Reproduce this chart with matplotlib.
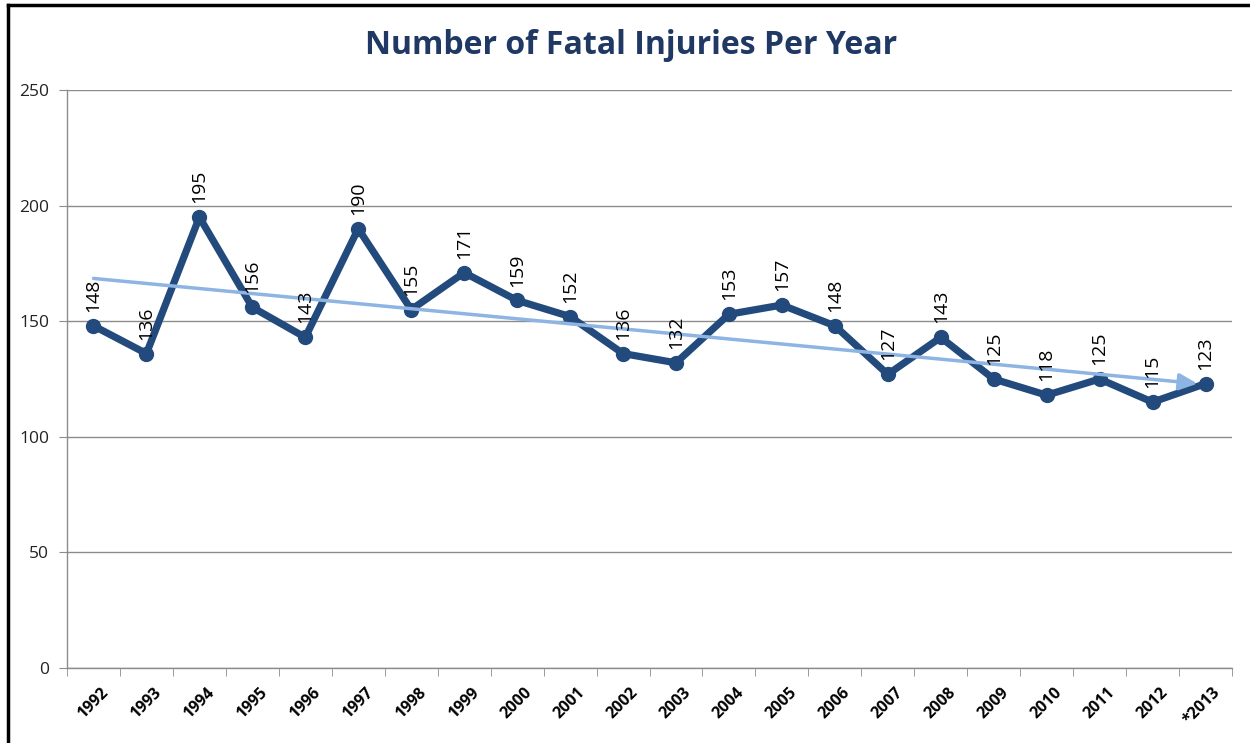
import matplotlib
matplotlib.use("Agg")
import matplotlib.pyplot as plt
from matplotlib.lines import Line2D
import matplotlib.transforms as mtransforms

years = ["1992", "1993", "1994", "1995", "1996", "1997", "1998", "1999", "2000", "2001",
         "2002", "2003", "2004", "2005", "2006", "2007", "2008", "2009", "2010", "2011",
         "2012", "*2013"]
fatalities = [148, 136, 195, 156, 143, 190, 155, 171, 159, 152,
              136, 132, 153, 157, 148, 127, 143, 125, 118, 125, 115, 123]
trend_start = 168.5
trend_end = 123
y_ticks = [0, 50, 100, 150, 200, 250]

plt.rcParams['font.family'] = ['Open Sans', 'DejaVu Sans']

fig = plt.figure(figsize=(12.5, 7.43), dpi=100)
ax = fig.add_axes([67/1250, 1-668/743, (1232-67)/1250, (668-90)/743])

x = list(range(len(years)))
line_color = '#234A7C'
ax.plot(x, fatalities, color=line_color, lw=5.2, marker='o', markersize=10,
        solid_joinstyle='round', zorder=3)

for xi, v in zip(x, fatalities):
    ax.annotate(str(v), (xi, v), xytext=(0, 10), textcoords='offset points',
                rotation=90, ha='center', va='bottom', fontsize=14, color='black', zorder=5)

ax.annotate('', xy=(len(years) - 1 - 0.15, trend_end), xytext=(0, trend_start),
            arrowprops=dict(arrowstyle='-|>,head_length=1.1,head_width=0.5',
                            color='#8DB4E2', lw=2.5, shrinkA=0, shrinkB=0), zorder=4)

ax.set_xlim(-0.5, len(years) - 0.5)
ax.set_ylim(0, 250)
ax.set_yticks(y_ticks)
ax.set_yticklabels([str(t) for t in y_ticks], fontsize=12.5, color='#222222')
ax.grid(axis='y', color='#8C8C8C', lw=1)
ax.set_axisbelow(True)

ax.set_xticks(x)
ax.set_xticklabels(years, rotation=45, ha='right', rotation_mode='anchor',
                   fontsize=11.5, fontweight='bold')
ax.set_xticks([i - 0.5 for i in range(len(years) + 1)], minor=True)
ax.tick_params(axis='x', which='major', length=0, pad=12)
ax.tick_params(axis='x', which='minor', length=6, color='#8C8C8C', direction='out')
ax.tick_params(axis='y', length=6, color='#8C8C8C', pad=7)
offset = mtransforms.ScaledTranslation(7/100, 0, fig.dpi_scale_trans)
for lbl in ax.get_xticklabels():
    lbl.set_transform(lbl.get_transform() + offset)

for s in ['top', 'right']:
    ax.spines[s].set_visible(False)
for s in ['left', 'bottom']:
    ax.spines[s].set_color('#8C8C8C')
    ax.spines[s].set_linewidth(1)

fig.text(0.505, 1 - 45/743, 'Number of Fatal Injuries Per Year', ha='center', va='center',
         fontsize=23, fontweight='bold', color='#1F3864')

fig.add_artist(Line2D([8/1250, 1], [1 - 5/743, 1 - 5/743], color='black', lw=2.5,
                      transform=fig.transFigure))
fig.add_artist(Line2D([8/1250, 8/1250], [0, 1 - 5/743], color='black', lw=2.5,
                      transform=fig.transFigure))

fig.savefig('out.png', dpi=100)
